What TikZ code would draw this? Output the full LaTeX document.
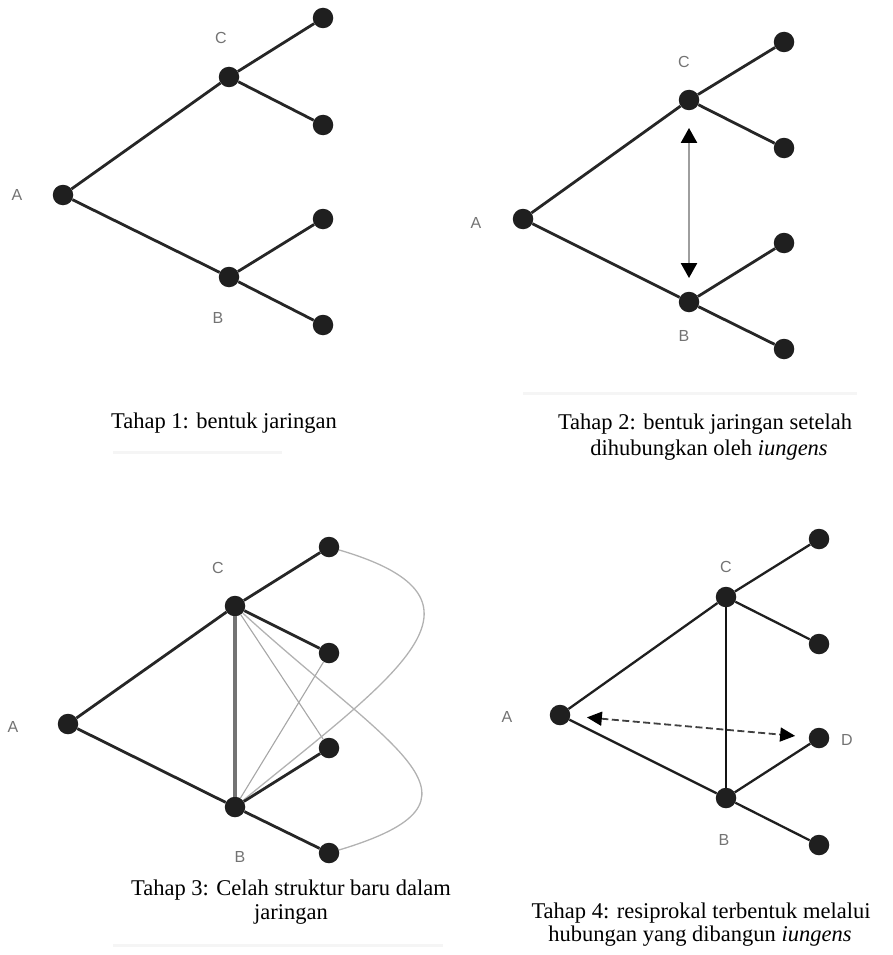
\documentclass[tikz,border=0pt]{standalone}
\usepackage{fontspec}
\setmainfont{Liberation Serif}
\newfontfamily\labelfont{Liberation Sans}
\usetikzlibrary{arrows.meta}

\begin{document}
\begin{tikzpicture}[x=1pt, y=-1pt,
  dot/.style={circle, fill=black!88, inner sep=0pt, minimum size=20.5pt},
  tie/.style={draw=black!85, line width=2.8pt},
  thintie/.style={draw=black!88, line width=2.3pt},
  lbl/.style={font=\labelfont\fontsize{16}{16}\selectfont, text=black!55, inner sep=0pt},
  captext/.style={font=\fontsize{22.5}{27}\selectfont, inner sep=0pt, anchor=base},
  weak/.style={draw=black!35, line width=1.1pt},
  loopline/.style={draw=black!30, line width=1.3pt},
  bridge/.style={draw=black!55, line width=3.4pt},
  scanline/.style={draw=black!4, line width=3pt}
]
\useasboundingbox (0,0) rectangle (892,955);

% ---------- Tahap 1 ----------
\node[dot] (a1) at (63,195) {};
\node[dot] (c1) at (229,77) {};
\node[dot] (b1) at (229,277) {};
\node[dot] (p11) at (323,18) {};
\node[dot] (p12) at (323,125) {};
\node[dot] (p13) at (323,219) {};
\node[dot] (p14) at (323,325) {};
\node[lbl] (la1) at (17,195) {A};
\node[lbl] (lc1) at (221,38) {C};
\node[lbl] (lb1) at (218,318) {B};
\draw[tie] (a1) -- (c1);
\draw[tie] (a1) -- (b1);
\draw[tie] (c1) -- (p11);
\draw[tie] (c1) -- (p12);
\draw[tie] (b1) -- (p13);
\draw[tie] (b1) -- (p14);
\node[captext] (cap1) at (224,428) {Tahap 1: bentuk jaringan};
\draw[scanline] (113,452) -- (282,452);

% ---------- Tahap 2 ----------
\node[dot] (a2) at (523,219) {};
\node[dot] (c2) at (689,100) {};
\node[dot] (b2) at (689,302) {};
\node[dot] (p21) at (784,42) {};
\node[dot] (p22) at (784,148) {};
\node[dot] (p23) at (784,243) {};
\node[dot] (p24) at (784,349) {};
\node[lbl] (la2) at (476,223) {A};
\node[lbl] (lc2) at (684,62) {C};
\node[lbl] (lb2) at (684,336) {B};
\draw[tie] (a2) -- (c2);
\draw[tie] (a2) -- (b2);
\draw[tie] (c2) -- (p21);
\draw[tie] (c2) -- (p22);
\draw[tie] (b2) -- (p23);
\draw[tie] (b2) -- (p24);
\draw[draw=black!38, line width=2.4pt,
      {Triangle[length=15pt, width=16pt, color=black]}-{Triangle[length=15pt, width=16pt, color=black]},
      shorten <=17.5pt, shorten >=13.5pt] (c2) -- (b2);
\draw[scanline] (523,393) -- (857,393);
\node[captext] (cap2a) at (705,429) {Tahap 2: bentuk jaringan setelah};
\node[captext] (cap2b) at (709,455) {dihubungkan oleh \textit{iungens}};

% ---------- Tahap 3 ----------
\node[dot] (a3) at (68,724) {};
\node[dot] (c3) at (235,606) {};
\node[dot] (b3) at (235,807) {};
\node[dot] (p31) at (329,547) {};
\node[dot] (p32) at (329,653) {};
\node[dot] (p33) at (329,748) {};
\node[dot] (p34) at (329,853) {};
\node[lbl] (la3) at (13,727) {A};
\node[lbl] (lc3) at (218,568) {C};
\node[lbl] (lb3) at (240,857) {B};
\draw[weak] (c3) -- (p33);
\draw[weak] (b3) -- (p32);
\draw[loopline] (c3) .. controls (395,752) and (505,800) .. (p34);
\draw[loopline] (b3) .. controls (395,676) and (510,600) .. (p31);
\draw[bridge] (c3) -- (b3);
\draw[tie] (a3) -- (c3);
\draw[tie] (a3) -- (b3);
\draw[tie] (c3) -- (p31);
\draw[tie] (c3) -- (p32);
\draw[tie] (b3) -- (p33);
\draw[tie] (b3) -- (p34);
\node[captext] (cap3a) at (291,895) {Tahap 3: Celah struktur baru dalam};
\node[captext] (cap3b) at (291,919) {jaringan};
\draw[scanline] (113,945) -- (443,945);

% ---------- Tahap 4 ----------
\node[dot] (a4) at (560,715) {};
\node[dot] (c4) at (726,597) {};
\node[dot] (b4) at (726,798) {};
\node[dot] (p41) at (819,539) {};
\node[dot] (p42) at (819,644) {};
\node[dot] (d4) at (819,738) {};
\node[dot] (p44) at (819,845) {};
\node[lbl] (la4) at (507,717) {A};
\node[lbl] (lc4) at (726,567) {C};
\node[lbl] (lb4) at (724,840) {B};
\node[lbl] (ld4) at (847,740) {D};
\draw[thintie] (a4) -- (c4);
\draw[thintie] (a4) -- (b4);
\draw[thintie] (c4) -- (p41);
\draw[thintie] (c4) -- (p42);
\draw[thintie] (b4) -- (d4);
\draw[thintie] (b4) -- (p44);
\draw[draw=black!92, line width=2pt] (c4) -- (b4);
\draw[draw=black!75, line width=1.8pt, dash pattern=on 7pt off 3.5pt,
      {Triangle[length=15pt, width=14pt, color=black]}-{Triangle[length=15pt, width=14pt, color=black]},
      shorten <=16.5pt, shorten >=13.5pt] (a4) -- (d4);
\node[captext] (cap4a) at (701,918) {Tahap 4: resiprokal terbentuk melalui};
\node[captext] (cap4b) at (700,941) {hubungan yang dibangun \textit{iungens}};
\end{tikzpicture}
\end{document}
